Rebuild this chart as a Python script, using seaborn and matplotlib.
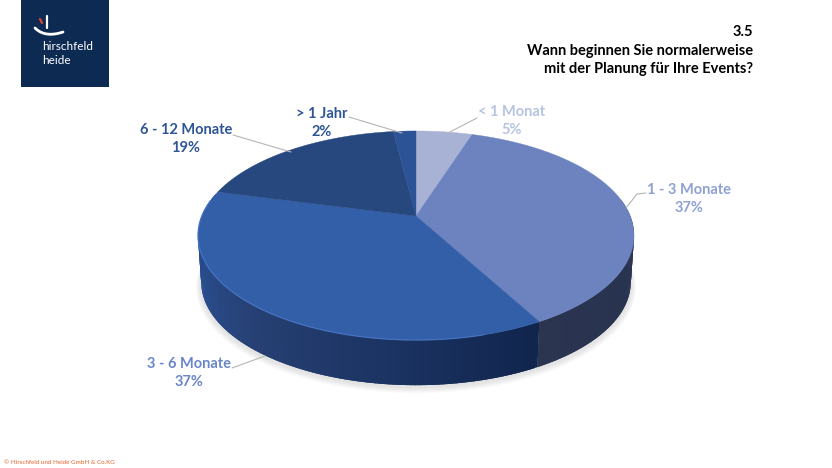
import numpy as np
import matplotlib
matplotlib.use("Agg")
import matplotlib.pyplot as plt
import seaborn as sns

# values from the chart, clockwise from 12 o'clock
categories = ["< 1 Monat", "1 - 3 Monate", "3 - 6 Monate", "6 - 12 Monate", "> 1 Jahr"]
shares = [5, 37, 37, 19, 2]

title_lines = ["3.5", "Wann beginnen Sie normalerweise", "mit der Planung für Ihre Events?"]
logo_lines = ["hirschfeld", "heide"]
footer_text = "© Hirschfeld und Heide GmbH & Co.KG"

top_colors = ["#a7b2d5", "#6c83bf", "#335fa9", "#27487f", "#2c5396"]
text_colors = ["#b6c3e2", "#8fa1d3", "#6a86cb", "#2f5597", "#2f5597"]

# label centre x, first line y, leader line
label_pos = [
    (512, 112, [(477, 118), (446, 134)]),
    (689, 190, [(646, 193), (637, 194), (626, 208)]),
    (189, 364, [(232, 368), (265, 356)]),
    (186, 130, [(233, 135), (291, 152)]),
    (322, 114, [(349, 117), (402, 133)]),
]

# disc perspective
CX, CY = 416, 216
K, A, C = 0.1866, 100.9, 214.2
DEPTH = 47
BOTTOM_SCALE = 0.985


def project(t, scale=1.0, dy=0.0):
    # t in radians clockwise from the top of the disc
    u, v = np.sin(t), -np.cos(t)
    w = 1 - K * v
    return CX + scale * C * u / w, CY + scale * A * v / w + dy


sns.set_theme(style="white")
plt.rcParams["font.family"] = ["Lato", "DejaVu Sans"]

fig = plt.figure(figsize=(8.32, 4.68), dpi=100)
ax = fig.add_axes([0, 0, 1, 1])
ax.set_xlim(0, 832)
ax.set_ylim(468, 0)
ax.axis("off")

edges = 2 * np.pi * np.cumsum([0] + shares) / sum(shares)

# soft shadow under the pie
ring = np.linspace(0, 2 * np.pi, 200)
for i in range(8):
    sx, sy = project(ring, BOTTOM_SCALE + 0.003 * (8 - i), DEPTH + 5 - 0.4 * i)
    ax.fill(sx, sy, color="#909090", alpha=0.03, lw=0, zorder=1)

# side wall, shaded strip by strip, each strip overlaps the next to hide seams
side_right = sns.blend_palette(["#2e3856", "#283350", "#2b3550"], 40)
side_front = sns.blend_palette(["#11254d", "#1b3362", "#263f72", "#2a4d8e", "#24468a"], 130)
t_side = np.radians(np.linspace(80, 282, 203))
wall = t_side[:-1]
wall = np.r_[edges[2], wall[wall >= edges[2]], wall[wall < edges[2]][::-1]]
for a in wall:
    b = a + np.radians(1)
    if a < edges[2]:
        frac = (a - t_side[0]) / (edges[2] - t_side[0])
        col = side_right[min(int(frac * 40), 39)]
        seg = np.array([a, min(b + 0.02, edges[2])])
    else:
        frac = (a - edges[2]) / (t_side[-1] - edges[2])
        col = side_front[min(int(frac * 130), 129)]
        seg = np.array([a, b + 0.02])
    x1, y1 = project(seg)
    x2, y2 = project(seg[::-1], BOTTOM_SCALE, DEPTH)
    ax.fill(np.r_[x1, x2], np.r_[y1, y2], color=col, lw=0, zorder=2)

# top face wedges
for i, col in enumerate(top_colors):
    t = np.linspace(edges[i], edges[i + 1], 80)
    x, y = project(t)
    ax.fill(np.r_[CX, x], np.r_[CY, y], color=col, lw=0.3, zorder=3)

# bevel highlight along the front edge of the big wedge
t = np.radians(np.linspace(165, 279, 100))
x, y = project(t)
ax.plot(x, y, color="#4a78c8", lw=0.9, alpha=0.8, zorder=4)

# labels and leader lines
for name, share, col, (lx, ly, leader) in zip(categories, shares, text_colors, label_pos):
    ax.plot(*zip(*leader), color="#b5b5b5", lw=0.8, zorder=5)
    ax.text(lx, ly, name, color=col, fontsize=10.5, fontweight="bold", ha="center", va="center")
    ax.text(lx, ly + 18, f"{share}%", color=col, fontsize=10.5, fontweight="bold", ha="center", va="center")

# title block
for line, ypos in zip(title_lines, [32, 51, 69]):
    ax.text(753, ypos, line, color="black", fontsize=10.5, fontweight="bold", ha="right", va="center")

# logo
ax.fill([21, 109, 109, 21], [0, 0, 87, 87], color="#0d2a52", lw=0, zorder=6)
s = np.linspace(0, 1, 30)
ax.plot((1 - s) ** 2 * 35 + 2 * s * (1 - s) * 45 + s ** 2 * 63,
        (1 - s) ** 2 * 28 + 2 * s * (1 - s) * 38 + s ** 2 * 32,
        color="white", lw=2, solid_capstyle="round", zorder=7)
ax.plot([47, 47], [16, 28], color="white", lw=1.6, zorder=7)
ax.plot([40, 42], [19, 23], color="#e0452c", lw=1.6, zorder=7)
for line, ypos in zip(logo_lines, [47, 61]):
    ax.text(42, ypos, line, color="white", fontsize=8.5, ha="left", va="center", zorder=7)

ax.text(4, 463, footer_text, color="#e8622a", fontsize=4.5, ha="left", va="center")

fig.savefig("out.png", dpi=100, facecolor="white")
